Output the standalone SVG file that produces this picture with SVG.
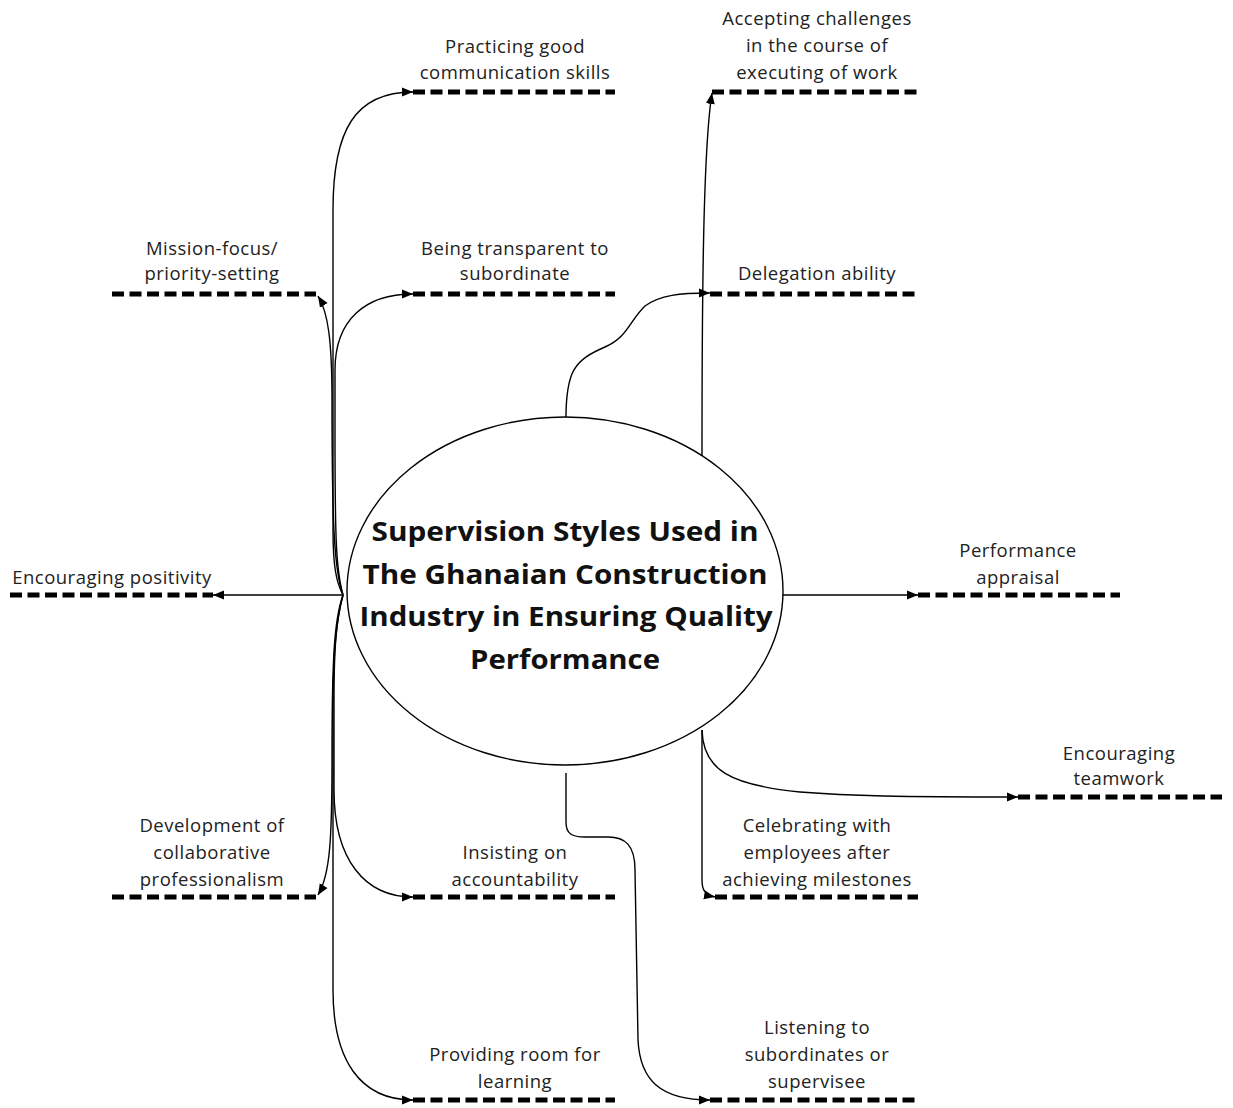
<svg xmlns="http://www.w3.org/2000/svg" width="1233" height="1108" viewBox="0 0 1233 1108">
  <style>
    .lbl { font-family: "Open Sans", Lato, "Liberation Sans", sans-serif; font-size: 18.5px; letter-spacing: 0.5px; fill: #222; text-anchor: middle; }
    .title { font-family: "Open Sans", Lato, "Liberation Sans", sans-serif; font-size: 26px; font-weight: bold; fill: #111; text-anchor: middle; }
    .dash { stroke: #000; stroke-width: 5; stroke-dasharray: 12 5.5; fill: none; }
    .conn { stroke: #000; stroke-width: 1.4; fill: none; marker-end: url(#arrow); }
  </style>
  <defs>
    <marker id="arrow" markerUnits="userSpaceOnUse" markerWidth="12" markerHeight="10" refX="11" refY="5" orient="auto">
      <path d="M0,0.5 L11,5 L0,9.5 Z" fill="#000"/>
    </marker>
  </defs>
  <rect width="1233" height="1108" fill="#fff"/>

  <!-- connectors -->
  <g id="connectors">
    <path class="conn" d="M343,595 C336,582 333,565 333,530 L333,210 C333,130 355,92 413,92"/>
    <path class="conn" d="M343,595 C336,570 335,540 335,430 L335,370 C335,320 365,294 413,294"/>
    <path class="conn" d="M343,595 C334,570 332,520 332,400 C332,340 328,312 318,296"/>
    <path class="conn" d="M343,595 L213,595"/>
    <path class="conn" d="M343,595 C334,620 332,660 332,760 C332,840 330,875 318,895"/>
    <path class="conn" d="M343,595 C336,620 334,650 334,700 L334,790 C334,860 365,897 413,897"/>
    <path class="conn" d="M343,595 C335,625 333,660 333,720 L333,990 C333,1060 360,1100 413,1100"/>
    <path class="conn" d="M566,418 C566,370 575,360 605,347 C628,337 630,320 645,306 C660,295 680,293 710,293"/>
    <path class="conn" d="M702,456 C702,300 703,150 712,93"/>
    <path class="conn" d="M783,595 L918,595"/>
    <path class="conn" d="M702,730 L702,880 C702,890 705,895 715,897"/>
    <path class="conn" d="M702,730 C703,770 730,785 800,792 C850,796 900,797 1018,797"/>
    <path class="conn" d="M566,773 L566,822 C566,834 572,837 585,837 L608,837 C625,837 635,845 635,870 L638,1040 C640,1080 660,1100 710,1100"/>
  </g>

  <!-- central topic -->
  <g id="center">
    <ellipse cx="565" cy="591" rx="218" ry="174" fill="#fff" stroke="#000" stroke-width="1.4"/>
    <text class="title" x="565" y="541" textLength="387" lengthAdjust="spacingAndGlyphs">Supervision Styles Used in</text>
    <text class="title" x="565" y="584" textLength="405" lengthAdjust="spacingAndGlyphs">The Ghanaian Construction</text>
    <text class="title" x="566" y="626" textLength="413" lengthAdjust="spacingAndGlyphs">Industry in Ensuring Quality</text>
    <text class="title" x="565" y="669" textLength="190" lengthAdjust="spacingAndGlyphs">Performance</text>
  </g>

  <!-- branch nodes: label above a dashed baseline -->
  <g id="communication">
    <path class="dash" d="M413,92 H615"/>
    <text class="lbl" x="515" y="53">Practicing good</text>
    <text class="lbl" x="515" y="79">communication skills</text>
  </g>
  <g id="transparent">
    <path class="dash" d="M413,294 H615"/>
    <text class="lbl" x="515" y="255">Being transparent to</text>
    <text class="lbl" x="515" y="280">subordinate</text>
  </g>
  <g id="mission">
    <path class="dash" d="M112,294 H316"/>
    <text class="lbl" x="212" y="255">Mission-focus/</text>
    <text class="lbl" x="212" y="280">priority-setting</text>
  </g>
  <g id="positivity">
    <path class="dash" d="M10,595 H213"/>
    <text class="lbl" x="112" y="584">Encouraging positivity</text>
  </g>
  <g id="collaborative">
    <path class="dash" d="M112,897 H316"/>
    <text class="lbl" x="212" y="832">Development of</text>
    <text class="lbl" x="212" y="859">collaborative</text>
    <text class="lbl" x="212" y="886">professionalism</text>
  </g>
  <g id="accountability">
    <path class="dash" d="M413,897 H615"/>
    <text class="lbl" x="515" y="859">Insisting on</text>
    <text class="lbl" x="515" y="886">accountability</text>
  </g>
  <g id="learning">
    <path class="dash" d="M413,1100 H615"/>
    <text class="lbl" x="515" y="1061">Providing room for</text>
    <text class="lbl" x="515" y="1088">learning</text>
  </g>
  <g id="challenges">
    <path class="dash" d="M712,92 H918"/>
    <text class="lbl" x="817" y="25">Accepting challenges</text>
    <text class="lbl" x="817" y="52">in the course of</text>
    <text class="lbl" x="817" y="79">executing of work</text>
  </g>
  <g id="delegation">
    <path class="dash" d="M710,294 H918"/>
    <text class="lbl" x="817" y="280">Delegation ability</text>
  </g>
  <g id="appraisal">
    <path class="dash" d="M918,595 H1120"/>
    <text class="lbl" x="1018" y="557">Performance</text>
    <text class="lbl" x="1018" y="584">appraisal</text>
  </g>
  <g id="teamwork">
    <path class="dash" d="M1018,797 H1222"/>
    <text class="lbl" x="1119" y="760">Encouraging</text>
    <text class="lbl" x="1119" y="785">teamwork</text>
  </g>
  <g id="celebrating">
    <path class="dash" d="M715,897 H918"/>
    <text class="lbl" x="817" y="832">Celebrating with</text>
    <text class="lbl" x="817" y="859">employees after</text>
    <text class="lbl" x="817" y="886">achieving milestones</text>
  </g>
  <g id="listening">
    <path class="dash" d="M710,1100 H918"/>
    <text class="lbl" x="817" y="1034">Listening to</text>
    <text class="lbl" x="817" y="1061">subordinates or</text>
    <text class="lbl" x="817" y="1088">supervisee</text>
  </g>
</svg>
